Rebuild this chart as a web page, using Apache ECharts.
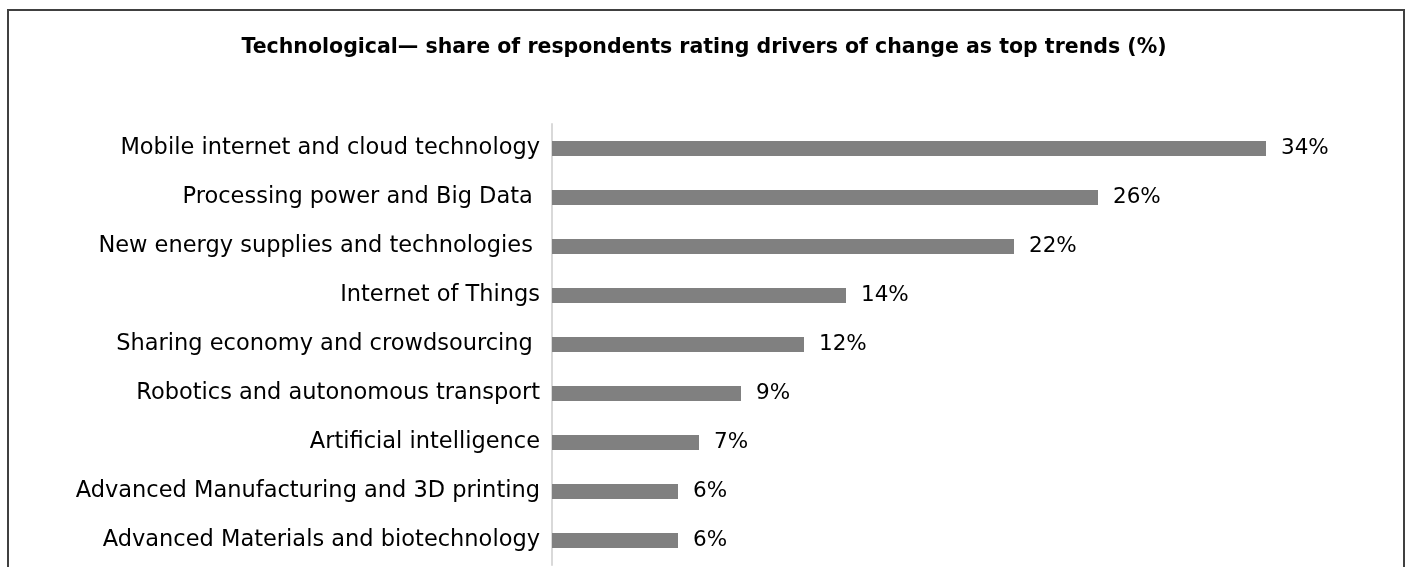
<!DOCTYPE html>
<html>
<head>
<meta charset="utf-8">
<script src="https://cdn.jsdelivr.net/npm/echarts@6/dist/echarts.min.js"></script>
<style>
  html, body { margin: 0; padding: 0; background: #fff; }
  #chart { width: 1408px; height: 567px; }
</style>
</head>
<body>
<div id="chart"></div>
<script>
const titleText = 'Technological\u2014 share of respondents rating drivers of change as top trends (%)'

// top to bottom, as in the picture
const categories = [
  'Mobile internet and cloud technology',
  'Processing power and Big Data ',
  'New energy supplies and technologies ',
  'Internet of Things',
  'Sharing economy and crowdsourcing ',
  'Robotics and autonomous transport',
  'Artificial intelligence',
  'Advanced Manufacturing and 3D printing',
  'Advanced Materials and biotechnology'
]
const shares = [34, 26, 22, 14, 12, 9, 7, 6, 6]

const font = 'DejaVu Sans'

const chart = echarts.init(document.getElementById('chart'))
chart.setOption({
  backgroundColor: '#fff',
  animation: false,
  title: {
    text: titleText,
    left: 'center',
    top: 32,
    textStyle: { fontFamily: font, fontWeight: 'bold', fontSize: 20.5, color: '#000' }
  },
  graphic: [{
    type: 'rect',
    shape: { x: 8, y: 10, width: 1396, height: 620 },
    style: { fill: 'none', stroke: '#404040', lineWidth: 2 },
    silent: true
  }],
  grid: { left: 552, right: 16, top: 124, bottom: 2, containLabel: false },
  xAxis: {
    type: 'value', min: 0, max: 40,
    show: false
  },
  yAxis: {
    type: 'category',
    inverse: true,
    data: categories,
    axisLine: { show: true, lineStyle: { color: '#d9d9d9', width: 2 } },
    axisTick: { show: false },
    axisLabel: { fontFamily: font, fontSize: 22.5, color: '#000', margin: 12 }
  },
  series: [{
    type: 'bar',
    data: shares,
    barWidth: 15,
    itemStyle: { color: '#808080' },
    label: {
      show: true, position: 'right', distance: 15,
      formatter: '{c}%',
      fontFamily: font, fontSize: 21.5, color: '#000'
    }
  }]
})
</script>
</body>
</html>
